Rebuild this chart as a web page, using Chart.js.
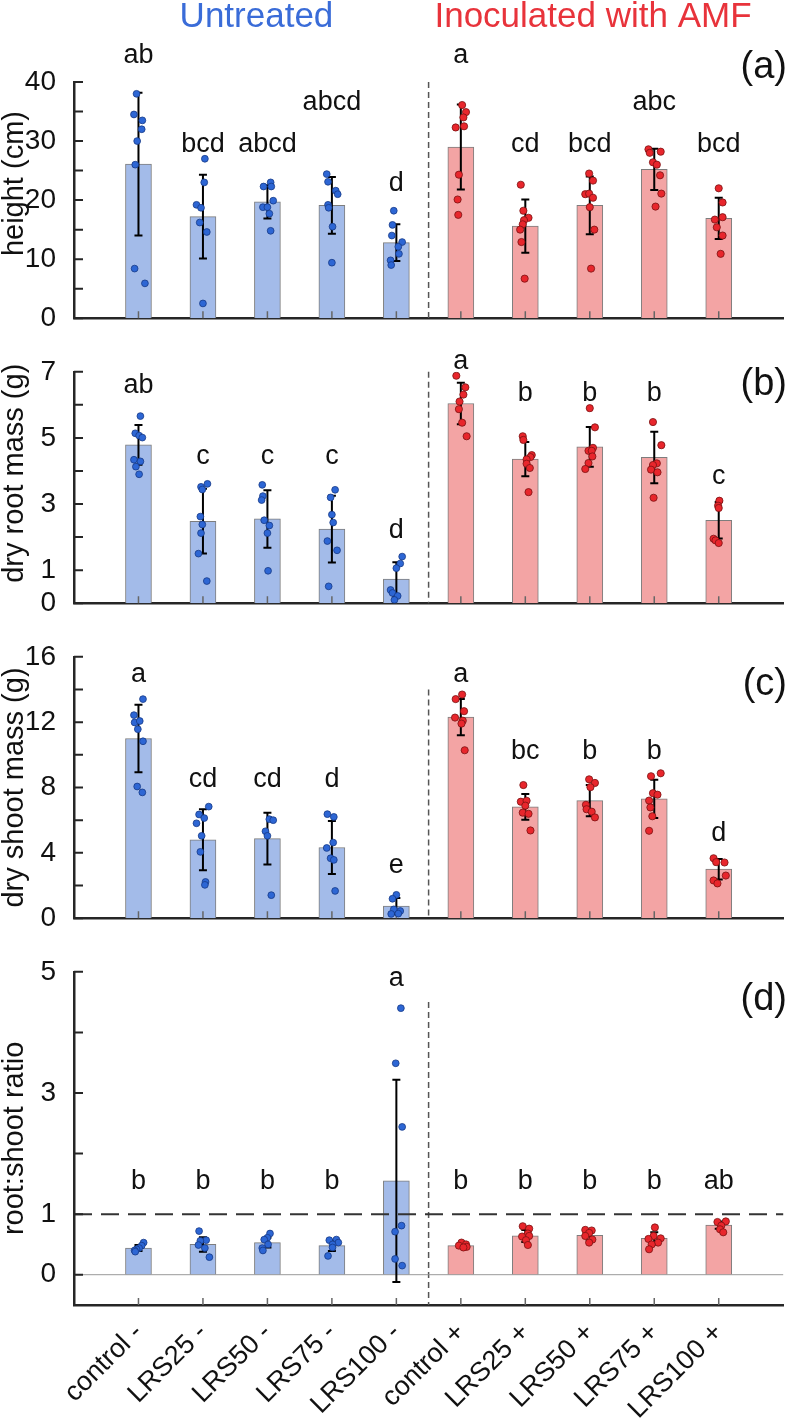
<!DOCTYPE html>
<html>
<head>
<meta charset="utf-8">
<script src="https://cdn.jsdelivr.net/npm/chart.js@4.4.1/dist/chart.umd.min.js"></script>
<style>
  body { margin: 0; background: #fff; }
  #wrap { position: relative; width: 788px; height: 1419px; }
  .panel { position: absolute; left: 0; width: 788px; }
</style>
</head>
<body>
<div id="wrap">
  <div class="panel" style="top:0;height:345px"><canvas id="chartA"></canvas></div>
  <div class="panel" style="top:345px;height:285px"><canvas id="chartB"></canvas></div>
  <div class="panel" style="top:630px;height:315px"><canvas id="chartC"></canvas></div>
  <div class="panel" style="top:945px;height:474px"><canvas id="chartD"></canvas></div>
</div>
<script>
// categories (first five untreated, last five inoculated)
const categories = ['control -', 'LRS25 -', 'LRS50 -', 'LRS75 -', 'LRS100 -',
                    'control +', 'LRS25 +', 'LRS50 +', 'LRS75 +', 'LRS100 +'];
const groupNames = ['Untreated', 'Inoculated with AMF'];

// (a) height (cm)
const heightMean = [26.1, 17.2, 19.7, 19.1, 12.8, 29.0, 15.6, 19.1, 25.2, 16.9];
const heightSd = [12.1, 7.1, 2.8, 4.8, 3.1, 7.2, 4.5, 4.9, 3.5, 3.5];
const heightDots = [
    [38.0, 34.5, 33.5, 32.0, 30.0, 26.0, 8.4, 5.9],
    [27.0, 23.0, 19.2, 18.7, 16.2, 14.6, 2.5],
    [23.0, 22.3, 22.3, 19.9, 18.8, 18.8, 17.7, 14.8],
    [24.4, 23.1, 21.6, 21.0, 19.2, 18.7, 15.5, 9.4],
    [18.2, 15.8, 14.0, 12.9, 12.1, 10.9, 9.8, 9.0],
    [36.1, 34.9, 34.0, 32.5, 32.3, 24.3, 20.1, 17.5],
    [22.6, 18.2, 17.0, 16.6, 15.9, 15.0, 12.9, 6.7],
    [24.5, 23.3, 21.0, 21.1, 20.4, 18.8, 15.0, 8.4],
    [28.6, 28.0, 28.2, 26.4, 26.0, 24.2, 21.1, 18.9],
    [22.0, 19.6, 17.1, 16.7, 15.4, 14.0, 10.9]
];
const heightLetters = ['ab', 'bcd', 'abcd', 'abcd', 'd', 'a', 'cd', 'bcd', 'abc', 'bcd'];

// (b) dry root mass (g)
const rootMean = [4.79, 2.48, 2.55, 2.24, 0.73, 6.04, 4.36, 4.73, 4.41, 2.51];
const rootSd = [0.60, 0.98, 0.87, 1.01, 0.51, 0.63, 0.52, 0.60, 0.78, 0.55];
const rootDots = [
    [5.66, 5.14, 5.07, 5.01, 4.34, 4.29, 4.13, 3.90],
    [3.61, 3.52, 3.44, 2.62, 2.38, 2.12, 1.50, 0.67],
    [3.58, 3.24, 3.12, 2.51, 2.35, 2.12, 0.98],
    [3.43, 3.20, 2.68, 2.44, 1.88, 1.60, 0.51],
    [1.41, 1.20, 1.06, 0.40, 0.31, 0.22, 0.10],
    [6.88, 6.53, 6.31, 6.10, 5.87, 5.46, 5.05],
    [5.05, 4.94, 4.48, 4.42, 4.35, 4.22, 4.09, 3.36],
    [5.90, 5.32, 4.70, 4.61, 4.61, 4.44, 4.24, 4.06],
    [5.48, 4.78, 4.23, 4.18, 4.04, 3.96, 3.19],
    [3.10, 2.95, 2.88, 1.95, 1.90, 1.82]
];
const rootLetters = ['ab', 'c', 'c', 'c', 'd', 'a', 'b', 'b', 'b', 'c'];

// (c) dry shoot mass (g)
const shootMean = [11.0, 4.80, 4.87, 4.33, 0.74, 12.31, 6.81, 7.20, 7.30, 3.0];
const shootSd = [2.06, 1.87, 1.58, 1.62, 0.50, 1.11, 0.79, 0.96, 1.17, 0.63];
const shootDots = [
    [13.41, 12.43, 11.98, 12.07, 11.57, 10.83, 8.06, 7.70],
    [6.83, 6.35, 6.13, 5.81, 5.04, 4.06, 2.22, 2.04],
    [6.06, 6.00, 5.32, 5.04, 1.41],
    [6.37, 6.20, 4.63, 4.30, 3.67, 3.57, 1.67],
    [1.43, 1.19, 0.54, 0.44, 0.26, 0.28],
    [13.69, 13.41, 12.67, 12.28, 12.09, 11.91, 10.28],
    [8.15, 7.13, 7.19, 6.89, 6.46, 6.39, 5.37],
    [8.50, 8.28, 8.02, 6.94, 6.67, 6.52, 6.17],
    [8.87, 8.69, 7.65, 7.56, 7.20, 6.78, 6.24, 5.35],
    [3.67, 3.43, 3.41, 2.61, 2.31, 2.13]
];
const shootLetters = ['a', 'cd', 'cd', 'd', 'e', 'a', 'bc', 'b', 'b', 'd'];

// (d) root:shoot ratio
const ratioMean = [0.44, 0.50, 0.53, 0.48, 1.55, 0.48, 0.64, 0.65, 0.60, 0.82];
const ratioSd = [0.05, 0.12, 0.08, 0.09, 1.67, 0.03, 0.10, 0.08, 0.10, 0.06];
const ratioDots = [
    [0.53, 0.48, 0.44, 0.42, 0.40, 0.38],
    [0.72, 0.57, 0.56, 0.49, 0.44, 0.29],
    [0.68, 0.61, 0.58, 0.50, 0.44, 0.40],
    [0.58, 0.57, 0.53, 0.50, 0.45, 0.31],
    [4.40, 3.49, 2.44, 0.81, 0.71, 0.26, 0.15],
    [0.53, 0.50, 0.48, 0.46, 0.45],
    [0.80, 0.76, 0.68, 0.64, 0.63, 0.57, 0.49],
    [0.74, 0.73, 0.69, 0.64, 0.58, 0.53],
    [0.78, 0.64, 0.60, 0.59, 0.53, 0.50, 0.42],
    [0.88, 0.87, 0.81, 0.75, 0.70]
];
const ratioLetters = ['b', 'b', 'b', 'b', 'a', 'b', 'b', 'b', 'b', 'ab'];

// horizontal scatter of the dots, in category steps (layout only)
const heightJitter = [
    [-0.03, -0.07, 0.06, 0.05, -0.02, -0.05, -0.06, 0.10],
    [0.03, 0.02, -0.10, -0.03, -0.05, 0.06, 0.0],
    [0.05, -0.06, 0.06, 0.09, -0.07, 0.0, 0.03, 0.05],
    [-0.08, -0.06, 0.06, 0.09, -0.06, -0.05, 0.01, 0.0],
    [-0.04, -0.06, -0.07, 0.09, 0.03, 0.04, -0.09, -0.08],
    [0.02, 0.08, 0.04, 0.05, -0.08, -0.03, -0.05, -0.04],
    [-0.07, -0.03, 0.05, -0.02, -0.04, -0.08, -0.06, -0.01],
    [-0.01, 0.05, -0.07, -0.01, 0.05, 0.0, 0.07, 0.02],
    [-0.09, -0.07, 0.10, -0.02, 0.04, 0.09, 0.11, 0.02],
    [0.0, 0.06, 0.06, -0.06, -0.03, 0.06, 0.03]
];
const rootJitter = [
    [0.03, -0.05, 0.01, 0.06, -0.07, 0.03, -0.04, 0.01],
    [0.07, -0.03, -0.01, -0.04, -0.01, -0.03, -0.07, 0.06],
    [-0.08, -0.07, -0.09, -0.05, 0.03, 0.0, 0.01],
    [0.05, -0.02, 0.0, 0.02, -0.07, 0.08, -0.05],
    [0.09, 0.06, 0.0, -0.09, -0.06, 0.02, -0.03],
    [-0.07, 0.07, 0.04, -0.02, -0.03, 0.02, 0.09],
    [-0.04, -0.03, 0.10, 0.08, 0.02, 0.02, 0.07, 0.05],
    [0.0, 0.08, 0.05, -0.02, 0.03, 0.04, -0.02, -0.07],
    [-0.02, 0.11, 0.04, -0.02, -0.05, 0.05, -0.01],
    [0.01, -0.01, 0.0, -0.08, -0.05, 0.0]
];
const shootJitter = [
    [0.07, -0.07, -0.06, 0.02, -0.01, 0.07, -0.02, 0.06],
    [0.09, -0.06, 0.02, -0.10, -0.02, -0.04, 0.04, 0.03],
    [0.03, 0.09, -0.03, 0.0, 0.06],
    [-0.07, 0.03, 0.02, -0.08, -0.02, 0.03, 0.05],
    [0.0, -0.06, -0.04, 0.06, -0.08, 0.03],
    [0.02, -0.08, 0.05, -0.09, 0.03, 0.01, 0.06],
    [-0.03, -0.07, 0.02, 0.0, -0.04, 0.05, 0.08],
    [-0.01, 0.08, 0.01, -0.06, -0.05, 0.03, 0.08],
    [0.10, -0.05, -0.02, 0.05, -0.08, -0.06, -0.03, -0.08],
    [-0.08, -0.04, 0.09, 0.11, -0.08, -0.02]
];
const ratioJitter = [
    [0.08, 0.05, 0.01, -0.03, -0.06, -0.05],
    [-0.06, 0.05, -0.04, -0.07, 0.03, 0.10],
    [0.04, 0.0, -0.05, 0.01, -0.08, -0.07],
    [0.07, -0.04, 0.10, 0.01, 0.01, -0.06],
    [0.07, -0.01, 0.09, 0.08, -0.02, -0.02, 0.09],
    [0.01, 0.08, -0.03, 0.09, 0.04],
    [-0.04, 0.06, 0.04, 0.06, -0.05, 0.01, 0.04],
    [-0.07, 0.03, -0.01, -0.07, 0.04, -0.01],
    [0.01, -0.01, 0.10, -0.09, 0.06, -0.04, -0.08],
    [0.11, -0.02, 0.04, 0.02, 0.07]
];

const FONT = "'Liberation Sans', Arial, sans-serif";
Chart.defaults.font.family = FONT;
Chart.defaults.color = '#111';

const BLUE_BAR = '#a3bbe9';
const RED_BAR = '#f3a4a4';
const BLUE_DOT = '#2d66d4';
const RED_DOT = '#e8262c';
const AXIS = '#262626';

const panels = [
    { id: 'chartA', yTitle: 'height (cm)', titleAt: 22.8, mean: heightMean, sd: heightSd, dots: heightDots, jitter: heightJitter,
      letters: heightLetters, letterAt: [43.2, 28.2, 28.2, 35.2, 21.6, 43.2, 28.2, 28.2, 35.2, 28.2],
      min: 0, max: 40, ticks: [0, 5, 10, 15, 20, 25, 30, 35, 40], labelled: [0, 10, 20, 30, 40],
      tag: '(a)', tagAt: 42.5, splitFrom: 40, padTop: 82, xHeight: 10, showCats: false, titles: true },
    { id: 'chartB', yTitle: 'dry root mass (g)', titleAt: 3.93, mean: rootMean, sd: rootSd, dots: rootDots, jitter: rootJitter,
      letters: rootLetters, letterAt: [6.35, 4.20, 4.20, 4.20, 1.96, 7.09, 6.13, 6.13, 6.13, 3.61],
      min: 0, max: 7, ticks: [0, 1, 2, 3, 4, 5, 6, 7], labelled: [0, 1, 3, 5, 7],
      tag: '(b)', tagAt: 6.62, splitFrom: 7, padTop: 23, xHeight: 7, showCats: false },
    { id: 'chartC', yTitle: 'dry shoot mass (g)', titleAt: 8.0, mean: shootMean, sd: shootSd, dots: shootDots, jitter: shootJitter,
      letters: shootLetters, letterAt: [14.44, 8.06, 8.06, 8.06, 2.78, 14.44, 9.72, 9.72, 9.72, 4.72],
      min: 0, max: 16, ticks: [0, 2, 4, 6, 8, 10, 12, 14, 16], labelled: [0, 4, 8, 12, 16],
      tag: '(c)', tagAt: 14.33, splitFrom: 14, padTop: 17, xHeight: 10, showCats: false },
    { id: 'chartD', yTitle: 'root:shoot ratio', titleAt: 2.25, mean: ratioMean, sd: ratioSd, dots: ratioDots, jitter: ratioJitter,
      letters: ratioLetters, letterAt: [1.42, 1.42, 1.42, 1.42, 4.76, 1.42, 1.42, 1.42, 1.42, 1.42],
      min: -0.5, max: 5, ticks: [0, 1, 2, 3, 4, 5], labelled: [0, 1, 3, 5],
      tag: '(d)', tagAt: 4.55, splitFrom: 4.5, padTop: 17, xHeight: 114, showCats: true, refLines: true }
];

function decor(p) {
    return {
        id: 'decor_' + p.id,
        afterDatasetDraw(chart, args) {
            if (args.index !== 0) return; // both bar sets are down now
            const ctx = chart.ctx, x = chart.scales.x, y = chart.scales.y, area = chart.chartArea;
            ctx.save();
            // group separator
            ctx.strokeStyle = '#555';
            ctx.lineWidth = 1.5;
            ctx.setLineDash([6, 4]);
            ctx.beginPath();
            ctx.moveTo(x.getPixelForValue(5.5), y.getPixelForValue(p.splitFrom));
            ctx.lineTo(x.getPixelForValue(5.5), area.bottom);
            ctx.stroke();
            if (p.refLines) {
                ctx.setLineDash([]);
                ctx.strokeStyle = '#999';
                ctx.lineWidth = 1;
                ctx.beginPath();
                ctx.moveTo(area.left, y.getPixelForValue(0));
                ctx.lineTo(area.right, y.getPixelForValue(0));
                ctx.stroke();
                ctx.strokeStyle = '#333';
                ctx.lineWidth = 2;
                ctx.setLineDash([18, 9]);
                ctx.beginPath();
                ctx.moveTo(area.left, y.getPixelForValue(1));
                ctx.lineTo(area.right, y.getPixelForValue(1));
                ctx.stroke();
            }
            ctx.setLineDash([]);
            // inward tick marks
            ctx.strokeStyle = '#666';
            ctx.lineWidth = 1.5;
            ctx.beginPath();
            x.ticks.forEach(t => {
                const px = x.getPixelForValue(t.value);
                ctx.moveTo(px, area.bottom);
                ctx.lineTo(px, area.bottom - 7);
            });
            ctx.stroke();
            ctx.strokeStyle = AXIS;
            ctx.lineWidth = 2;
            ctx.beginPath();
            p.ticks.forEach(v => {
                const py = y.getPixelForValue(v);
                ctx.moveTo(area.left, py);
                ctx.lineTo(area.left + 9, py);
            });
            ctx.stroke();
            // error bars
            ctx.strokeStyle = '#000';
            ctx.lineWidth = 2;
            p.mean.forEach((m, i) => {
                const px = x.getPixelForValue(i + 1);
                const top = y.getPixelForValue(m + p.sd[i]);
                const bot = y.getPixelForValue(m - p.sd[i]);
                ctx.beginPath();
                ctx.moveTo(px, top); ctx.lineTo(px, bot);
                ctx.moveTo(px - 4, top); ctx.lineTo(px + 4, top);
                ctx.moveTo(px - 4, bot); ctx.lineTo(px + 4, bot);
                ctx.stroke();
            });
            ctx.restore();
        },
        afterDraw(chart) {
            const ctx = chart.ctx, x = chart.scales.x, y = chart.scales.y;
            ctx.save();
            ctx.fillStyle = '#111';
            // y axis title
            ctx.save();
            ctx.translate(15, y.getPixelForValue(p.titleAt));
            ctx.rotate(-Math.PI / 2);
            ctx.font = '29px ' + FONT;
            ctx.textAlign = 'center';
            ctx.textBaseline = 'middle';
            ctx.fillText(p.yTitle, 0, 0);
            ctx.restore();
            // significance letters
            ctx.textAlign = 'center';
            ctx.textBaseline = 'alphabetic';
            ctx.font = '27px ' + FONT;
            p.letters.forEach((s, i) => {
                ctx.fillText(s, x.getPixelForValue(i + 1), y.getPixelForValue(p.letterAt[i]));
            });
            ctx.font = '38px ' + FONT;
            ctx.textAlign = 'right';
            ctx.textBaseline = 'middle';
            ctx.fillText(p.tag, chart.width - 1, y.getPixelForValue(p.tagAt));
            if (p.titles) {
                ctx.font = '35px ' + FONT;
                ctx.textAlign = 'center';
                ctx.textBaseline = 'alphabetic';
                ctx.fillStyle = '#3a6cd8';
                ctx.fillText(groupNames[0], x.getPixelForValue(2.83), 27);
                ctx.fillStyle = '#e8333b';
                ctx.fillText(groupNames[1], x.getPixelForValue(8.05), 27);
            }
            ctx.restore();
        }
    };
}

function makeChart(p) {
    const bars = (from, to) => p.mean.slice(from, to).map((m, i) => ({ x: from + i + 1, y: m }));
    const dots = (from, to) => {
        const out = [];
        for (let i = from; i < to; i++) {
            p.dots[i].forEach((v, k) => out.push({ x: i + 1 + p.jitter[i][k], y: v }));
        }
        return out;
    };
    new Chart(document.getElementById(p.id), {
        type: 'bar',
        data: {
            datasets: [
                { data: bars(0, 5), backgroundColor: BLUE_BAR, borderColor: '#7d7d7d', borderWidth: 1,
                  barThickness: 26, grouped: false, order: 2 },
                { data: bars(5, 10), backgroundColor: RED_BAR, borderColor: '#7d7d7d', borderWidth: 1,
                  barThickness: 26, grouped: false, order: 2 },
                { type: 'scatter', data: dots(0, 5), backgroundColor: BLUE_DOT, borderColor: '#173a86',
                  borderWidth: 0.8, pointRadius: 3.4, order: 1 },
                { type: 'scatter', data: dots(5, 10), backgroundColor: RED_DOT, borderColor: '#7a1111',
                  borderWidth: 0.8, pointRadius: 3.6, order: 1 }
            ]
        },
        options: {
            responsive: true,
            maintainAspectRatio: false,
            animation: false,
            layout: { padding: { top: p.padTop, right: 3, left: 0, bottom: 0 } },
            plugins: { legend: { display: false }, tooltip: { enabled: false } },
            scales: {
                x: {
                    type: 'linear', min: 0, max: 11, offset: false,
                    grid: { display: false },
                    border: { display: true, color: AXIS, width: 2.5 },
                    afterBuildTicks: s => { s.ticks = categories.map((c, i) => ({ value: i + 1 })); },
                    afterFit: s => { s.height = p.xHeight; },
                    ticks: {
                        display: p.showCats, autoSkip: false, minRotation: 45, maxRotation: 45,
                        padding: 4, font: { size: 27 }, color: '#111',
                        callback: v => categories[v - 1]
                    }
                },
                y: {
                    min: p.min, max: p.max,
                    grid: { display: false },
                    border: { display: true, color: AXIS, width: 2.5 },
                    afterBuildTicks: s => { s.ticks = p.ticks.map(v => ({ value: v })); },
                    afterFit: s => { s.width = 74; },
                    ticks: {
                        autoSkip: false, padding: 10, font: { size: 28 }, color: '#111',
                        callback: v => p.labelled.includes(v) ? String(v) : ''
                    }
                }
            }
        },
        plugins: [decor(p)]
    });
}

panels.forEach(makeChart);
</script>
</body>
</html>
